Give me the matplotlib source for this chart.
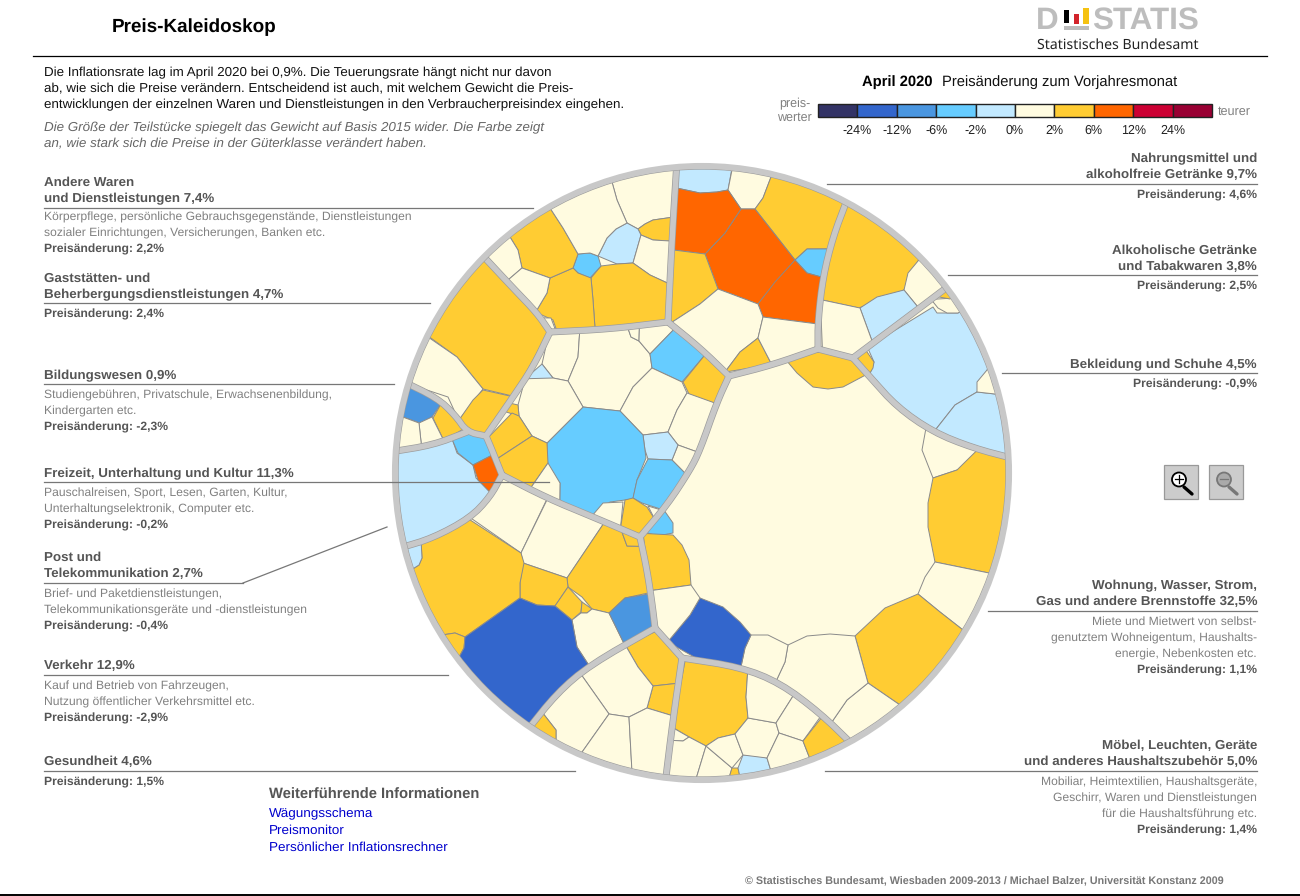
import numpy as np
import matplotlib
matplotlib.use('Agg')
import matplotlib.pyplot as plt
from matplotlib.patches import Polygon, Circle, Rectangle

plt.rcParams['font.family'] = ['Liberation Sans', 'DejaVu Sans']
plt.rcParams['text.hinting'] = 'no_hinting'

# --------------------- colour scale ---------------------
price_colors = ['#333366', '#3366cc', '#4a96e0', '#66ccff', '#c2e9ff',
                '#fffbe0', '#ffcc33', '#ff6600', '#cc0033', '#990033']
price_ticks = ['-24%', '-12%', '-6%', '-2%', '0%', '2%', '6%', '12%', '24%']
DBLUE, MBLUE, BLUE, LBLUE, CREAM, GOLD, ORANGE = 1, 2, 3, 4, 5, 6, 7

# --------------------- cells: (price class, outline) ---------------------
cells_waren = [
    (CREAM, [(612,182),(617,200),(627,223),(638,229),(645,224),(653,220),(672,217),(677,168)]),
    (GOLD, [(638,229),(645,224),(653,220),(672,217),(670,241),(653,240),(641,235)]),
    (LBLUE, [(627,223),(638,229),(641,235),(633,263),(617,264),(598,256),(607,238),(616,229)]),
    (CREAM, [(641,235),(653,240),(670,241),(667,284),(650,275),(633,263)]),
    (GOLD, [(601,266),(617,264),(633,263),(650,275),(667,284),(667,322),(595,328),(593,300),(591,278)]),
    (BLUE, [(578,254),(590,253),(598,256),(601,266),(590,278),(578,273),(573,268)]),
    (GOLD, [(550,278),(573,268),(578,273),(591,278),(593,300),(595,328),(557,329),(553,320),(537,311),(547,293)]),
    (CREAM, [(537,313),(545,314),(551,318),(556,329),(548,330)]),
    (GOLD, [(510,237),(550,208),(563,228),(578,254),(573,268),(550,278),(522,268),(518,250)]),
    (CREAM, [(550,208),(612,182),(617,200),(627,223),(616,229),(607,238),(598,256),(590,253),(578,254),(563,228)]),
    (CREAM, [(488,257),(510,237),(518,250),(522,268),(510,278)]),
    (CREAM, [(510,278),(522,268),(550,278),(547,293),(537,311)]),
]
cells_gast = [
    (GOLD, [(483,260),(547,332),(513,396),(483,389),(457,357),(428,336)]),
    (CREAM, [(428,337),(457,357),(483,389),(463,417),(448,397),(410,378)]),
    (GOLD, [(483,390),(512,396),(487,435),(468,428),(463,417),(473,400)]),
]
cells_bildung = [
    (MBLUE, [(407,387),(440,405),(432,417),(420,423),(400,416)]),
    (GOLD, [(440,405),(463,430),(443,438),(433,418)]),
    (CREAM, [(432,417),(443,438),(421,444),(419,423)]),
    (CREAM, [(400,416),(419,423),(421,444),(397,447)]),
]
cells_freizeit = [
    (LBLUE, [(395,452),(453,441),(457,453),(473,465),(476,478),(487,490),(470,518),(433,538),(403,545)]),
    (BLUE, [(453,442),(468,435),(485,438),(492,455),(473,465),(458,453)]),
    (ORANGE, [(473,465),(492,455),(498,470),(497,478),(487,491),(478,480)]),
    (CREAM, [(550,336),(580,335),(578,357),(568,381),(553,378),(542,364)]),
    (LBLUE, [(542,364),(553,378),(540,383),(530,382)]),
    (CREAM, [(580,335),(628,332),(631,337),(639,341),(650,354),(652,368),(633,387),(620,411),(583,407),(568,381),(578,357)]),
    (CREAM, [(628,332),(640,330),(639,341),(631,337)]),
    (CREAM, [(640,330),(668,326),(672,332),(650,354),(639,341)]),
    (BLUE, [(672,332),(702,358),(682,382),(652,368),(650,354)]),
    (GOLD, [(702,358),(727,378),(715,403),(690,396),(683,382)]),
    (CREAM, [(652,368),(682,382),(687,393),(677,410),(668,432),(643,435),(620,411),(633,387)]),
    (CREAM, [(687,393),(715,403),(697,445),(693,450),(678,445),(668,432),(677,410)]),
    (CREAM, [(678,445),(693,450),(682,472),(672,460)]),
    (LBLUE, [(643,435),(668,432),(678,445),(672,460),(648,459),(645,450)]),
    (BLUE, [(547,443),(583,407),(620,411),(643,435),(646,458),(637,480),(633,499),(625,500),(610,502),(593,513),(562,498),(560,483),(547,470)]),
    (BLUE, [(648,459),(672,460),(682,472),(658,506),(648,505),(642,503),(633,498),(637,480)]),
    (CREAM, [(530,382),(553,378),(568,381),(583,407),(547,443),(532,436),(519,416),(518,405)]),
    (GOLD, [(512,405),(518,405),(519,416),(509,415)]),
    (GOLD, [(491,437),(512,413),(519,416),(532,436),(500,458)]),
    (GOLD, [(500,458),(532,436),(547,443),(548,463),(533,483),(505,475)]),
    (CREAM, [(548,463),(560,483),(562,498),(533,483)]),
    (CREAM, [(593,513),(603,503),(623,502),(622,525),(603,520)]),
    (GOLD, [(625,500),(633,498),(647,507),(652,517),(639,534),(622,525)]),
    (CREAM, [(648,506),(658,507),(652,517)]),
]
cells_verkehr = [
    (CREAM, [(470,518),(502,478),(547,499),(521,553)]),
    (CREAM, [(547,500),(603,526),(567,578),(523,563),(521,553)]),
    (GOLD, [(603,526),(619,533),(627,546),(639,547),(647,593),(625,598),(609,613),(592,609),(582,597),(568,587),(567,578)]),
    (GOLD, [(619,533),(638,539),(639,547),(627,546)]),
    (GOLD, [(523,563),(567,578),(568,587),(555,606),(537,605),(520,598),(520,583)]),
    (GOLD, [(568,587),(582,602),(581,612),(572,620),(555,606)]),
    (GOLD, [(582,602),(592,609),(587,613),(581,613)]),
    (CREAM, [(572,620),(581,613),(587,613),(592,609),(609,613),(623,642),(588,664),(577,647)]),
    (MBLUE, [(609,613),(625,598),(648,594),(653,627),(623,642)]),
    (GOLD, [(422,544),(468,519),(521,553),(524,563),(520,583),(520,598),(465,637),(455,633),(442,635),(411,570),(419,565),(422,558)]),
    (LBLUE, [(405,550),(422,544),(422,558),(419,565),(411,570)]),
    (GOLD, [(442,635),(455,633),(465,637),(464,648),(458,659)]),
    (DBLUE, [(465,637),(520,598),(537,605),(555,606),(572,620),(577,647),(588,664),(528,727),(458,659),(464,648)]),
]
cells_gesundheit = [
    (GOLD, [(655,633),(679,657),(677,683),(653,686),(638,667),(627,648)]),
    (GOLD, [(653,686),(677,683),(673,716),(647,708)]),
    (CREAM, [(627,648),(638,667),(653,686),(647,708),(629,717),(609,714),(583,677)]),
    (CREAM, [(583,677),(609,714),(580,755),(556,743),(556,730),(547,716)]),
    (GOLD, [(547,716),(556,730),(556,743),(535,731)]),
    (CREAM, [(609,714),(629,717),(632,772),(580,755)]),
    (CREAM, [(629,717),(647,708),(673,716),(665,778),(632,772)]),
]
cells_moebel = [
    (GOLD, [(685,662),(747,673),(746,697),(748,718),(735,734),(718,738),(706,746),(689,737),(679,728)]),
    (CREAM, [(677,728),(689,737),(683,741),(676,741)]),
    (CREAM, [(676,741),(683,741),(689,737),(706,746),(696,779),(670,778)]),
    (CREAM, [(706,746),(732,768),(729,778),(696,779)]),
    (CREAM, [(706,746),(718,738),(735,734),(743,755),(732,768)]),
    (GOLD, [(732,768),(738,768),(740,777),(729,778)]),
    (LBLUE, [(743,755),(753,755),(767,758),(771,771),(740,777),(738,768)]),
    (CREAM, [(735,734),(748,718),(776,723),(779,733),(767,758),(743,755)]),
    (CREAM, [(747,673),(793,696),(776,723),(748,718),(746,697)]),
    (CREAM, [(793,696),(820,717),(803,741),(779,733),(776,723)]),
    (CREAM, [(779,733),(803,741),(810,759),(771,771),(767,758)]),
    (GOLD, [(822,717),(847,742),(810,759),(803,741)]),
]
cells_wohnung = [
    (GOLD, [(788,366),(820,354),(852,361),(863,378),(843,387),(828,389),(813,387),(797,373)]),
    (BLUE, [(658,512),(667,512),(673,523),(673,533),(657,536),(648,535)]),
    (CREAM, [(923,432),(922,450),(933,478),(963,468),(978,453)]),
    (GOLD, [(933,478),(928,503),(928,527),(935,562),(989,573),(1005,507),(1006,458),(977,453),(957,470)]),
    (CREAM, [(935,562),(989,573),(963,630),(940,612),(918,594),(925,577)]),
    (GOLD, [(918,594),(940,612),(963,630),(900,705),(868,683),(855,636),(885,608)]),
    (CREAM, [(868,683),(900,705),(853,738),(834,720),(847,700)]),
    (CREAM, [(788,645),(807,636),(830,634),(855,636),(868,683),(847,700),(834,720),(793,692),(778,678),(785,662)]),
    (CREAM, [(751,635),(768,635),(788,645),(785,662),(778,678),(742,663),(745,648)]),
    (DBLUE, [(700,598),(723,607),(740,622),(751,635),(745,648),(742,663),(702,657),(672,638),(690,615)]),
    (GOLD, [(645,535),(673,535),(682,545),(689,560),(691,585),(655,590)]),
    (CREAM, [(655,590),(691,585),(700,598),(690,615),(672,638),(658,627)]),
]
cells_nahrung = [
    (LBLUE, [(680,168),(732,168),(728,190),(717,192),(700,193),(680,188)]),
    (CREAM, [(732,170),(771,177),(763,198),(755,209),(741,209),(728,190)]),
    (GOLD, [(771,177),(843,203),(827,248),(807,249),(795,260),(755,209),(763,198)]),
    (BLUE, [(795,260),(807,249),(827,248),(820,277),(807,273)]),
    (ORANGE, [(741,209),(755,209),(795,260),(758,304),(718,289),(705,254),(725,233)]),
    (ORANGE, [(795,260),(807,273),(820,277),(817,324),(763,317),(758,304),(775,282)]),
    (ORANGE, [(679,188),(700,193),(717,192),(728,190),(741,209),(725,233),(705,254),(676,250)]),
    (GOLD, [(676,250),(705,254),(718,289),(700,304),(672,321)]),
    (CREAM, [(672,321),(700,304),(718,289),(758,304),(763,317),(758,338),(740,352),(726,371),(700,348)]),
    (GOLD, [(726,371),(740,352),(758,338),(771,362)]),
    (CREAM, [(763,317),(817,324),(817,348),(771,362),(758,338)]),
]
cells_alkohol = [
    (GOLD, [(848,208),(918,261),(904,290),(859,308),(824,300),(830,257)]),
    (CREAM, [(918,261),(942,287),(918,307),(904,290),(908,273)]),
    (LBLUE, [(904,290),(918,307),(872,342),(860,308),(877,297)]),
    (CREAM, [(824,300),(860,308),(872,342),(852,355),(823,348)]),
]
cells_bekleidung = [
    (LBLUE, [(871,352),(933,307),(937,313),(958,313),(987,370),(977,392),(955,405),(935,430),(870,375),(874,362)]),
    (LBLUE, [(977,392),(995,394),(1005,453),(935,430),(955,405)]),
    (CREAM, [(987,370),(995,394),(977,392),(977,382)]),
    (CREAM, [(933,302),(955,298),(958,313),(947,313),(938,308)]),
    (GOLD, [(938,300),(947,293),(950,299)]),
    (GOLD, [(857,360),(868,353),(874,362),(873,368),(869,375)]),
]
all_cells = (cells_waren + cells_gast + cells_bildung + cells_freizeit + cells_verkehr
             + cells_gesundheit + cells_moebel + cells_wohnung + cells_nahrung
             + cells_alkohol + cells_bekleidung)

# thick borders between the main groups
dividers = [
    [(677,160),(672,240),(668,322)],
    [(668,322),(610,329),(550,332)],
    [(550,332),(537,313),(513,288),(485,258)],
    [(550,332),(533,367),(513,397),(486,436)],
    [(400,380),(437,398),(455,415),(467,432),(486,436)],
    [(467,432),(433,445),(390,452)],
    [(486,436),(492,450),(502,475)],
    [(502,475),(547,498),(593,517),(640,537)],
    [(502,475),(490,497),(470,518),(433,538),(400,548)],
    [(640,537),(667,505),(690,470),(700,450),(717,402),(729,376)],
    [(668,322),(700,348),(729,376)],
    [(729,376),(772,365),(818,349)],
    [(818,349),(818,320),(823,277),(833,237),(847,200)],
    [(818,349),(853,358)],
    [(853,358),(877,340),(917,310),(950,285)],
    [(853,358),(870,377),(897,407),(933,432),(973,448),(1015,459)],
    [(640,537),(647,570),(652,603),(655,628)],
    [(655,628),(590,665),(557,693),(525,733)],
    [(655,628),(682,658)],
    [(682,658),(673,720),(665,785)],
    [(682,658),(740,667),(780,683),(820,713),(853,745)],
]

# --------------------- texts ---------------------
intro_lines = ['Die Inflationsrate lag im April 2020 bei 0,9%. Die Teuerungsrate hängt nicht nur davon',
               'ab, wie sich die Preise verändern. Entscheidend ist auch, mit welchem Gewicht die Preis-',
               'entwicklungen der einzelnen Waren und Dienstleistungen in den Verbraucherpreisindex eingehen.']
note_lines = ['Die Größe der Teilstücke spiegelt das Gewicht auf Basis 2015 wider. Die Farbe zeigt',
              'an, wie stark sich die Preise in der Güterklasse verändert haben.']
link_labels = ['Wägungsschema', 'Preismonitor', 'Persönlicher Inflationsrechner']

WHEEL_X, WHEEL_Y, WHEEL_R = 702, 473, 310
GREY_TXT = '#555555'
DESC_TXT = '#808080'
RULE = '#777777'


def chaikin(pts, n=2):
    pts = np.array(pts, dtype=float)
    for _ in range(n):
        q = 0.75 * pts[:-1] + 0.25 * pts[1:]
        r = 0.25 * pts[:-1] + 0.75 * pts[1:]
        mid = np.empty((2 * len(q), 2))
        mid[0::2], mid[1::2] = q, r
        pts = np.vstack([pts[:1], mid, pts[-1:]])
    return pts


smooth_dividers = [chaikin(d) for d in dividers]


def nearest_divider(v):
    # closest point on any divider: (distance, divider, segment, point)
    best = (1e9, -1, -1, None)
    for d, pts in enumerate(smooth_dividers):
        a, b = pts[:-1], pts[1:]
        ab = b - a
        t = np.clip(((v - a) * ab).sum(1) / np.maximum((ab * ab).sum(1), 1e-9), 0, 1)
        proj = a + ab * t[:, None]
        dist = np.hypot(*(v - proj).T)
        s = int(dist.argmin())
        if dist[s] < best[0]:
            best = (dist[s], d, s, proj[s])
    return best


def snap_to_dividers(verts):
    # vertices were read at the edge of a border; run them along its middle
    info = [nearest_divider(np.array(v, float)) for v in verts]
    out = []
    n = len(verts)
    for i in range(n):
        da, d1, s1, p1 = info[i]
        db, d2, s2, p2 = info[(i + 1) % n]
        out.append(p1 if da < 7 else np.array(verts[i], float))
        if da < 7 and db < 7 and d1 == d2 and s1 != s2:
            pts = smooth_dividers[d1]
            if s1 < s2:
                out.extend(pts[s1 + 1:s2 + 1])
            else:
                out.extend(pts[s2 + 1:s1 + 1][::-1])
    return np.array(out)


def reach_ring(verts):
    # cells touching the rim get pushed past it, the clip circle trims them
    out = []
    n = len(verts)
    c = np.array((WHEEL_X, WHEEL_Y), float)
    for i in range(n):
        a, b = verts[i], verts[(i + 1) % n]
        out.append(a)
        ra, rb = a - c, b - c
        if np.hypot(*ra) > 298 and np.hypot(*rb) > 298:
            out.append(c + ra / np.hypot(*ra) * 335)
            out.append(c + rb / np.hypot(*rb) * 335)
    return np.array(out)


fig = plt.figure(figsize=(13, 8.96), dpi=100)
ax = fig.add_axes([0, 0, 1, 1])
ax.set_xlim(0, 1300)
ax.set_ylim(896, 0)
ax.axis('off')


def put(x, y, s, size=9, color='black', **kw):
    return ax.text(x, y, s, fontsize=size, color=color, va='center', **kw)


# --------------------- wheel ---------------------
clip = Circle((WHEEL_X, WHEEL_Y), WHEEL_R - 3, transform=ax.transData)
ax.add_patch(Circle((WHEEL_X, WHEEL_Y), WHEEL_R - 3, fc=price_colors[CREAM], ec='none', zorder=1))

for cls, verts in all_cells:
    p = Polygon(reach_ring(snap_to_dividers(verts)), closed=True, fc=price_colors[cls], ec='#8a8a8a',
                lw=0.7, joinstyle='round', zorder=2)
    ax.add_patch(p)
    p.set_clip_path(clip)

for pts in smooth_dividers:
    for lw, col, z in [(5.0, '#9c9c9c', 3), (4.0, '#c8c8c8', 4)]:
        l, = ax.plot(pts[:, 0], pts[:, 1], color=col, lw=lw, solid_capstyle='round',
                     solid_joinstyle='round', zorder=z)
        l.set_clip_path(clip)

ax.add_patch(Circle((WHEEL_X, WHEEL_Y), WHEEL_R - 6, fc='none', ec='#9c9c9c', lw=0.9, zorder=5))
ax.add_patch(Circle((WHEEL_X, WHEEL_Y), WHEEL_R - 3, fc='none', ec='#c8c8c8', lw=4.4, zorder=6))

# --------------------- header ---------------------
put(112, 27.5, 'Preis-Kaleidoskop', size=13.6, weight='bold')
ax.plot([33, 1267], [56.5, 56.5], color='black', lw=0.9)
ax.plot([0, 1300], [895, 895], color='black', lw=1.4)

# logo
put(1036, 21, 'D', size=22.6, color='#bdbdbd', weight='bold')
put(1092, 21, 'STATIS', size=22.6, color='#bdbdbd', weight='bold')
ax.add_patch(Rectangle((1064, 10), 5, 13.5, fc='black', ec='none'))
ax.add_patch(Rectangle((1074, 14), 4.5, 10, fc='#d2232a', ec='none'))
ax.add_patch(Rectangle((1083, 8), 6, 16, fc='#f5c211', ec='none'))
ax.add_patch(Rectangle((1064, 26), 25, 4, fc='#bdbdbd', ec='none'))
put(1037, 45, 'Statistisches Bundesamt', size=10.15, color='#222222', family=['Noto Sans', 'DejaVu Sans'])

for i, s in enumerate(intro_lines):
    put(44, 73 + 16 * i, s, size=9.66, color='#111111')
for i, s in enumerate(note_lines):
    put(44, 128 + 16 * i, s, size=9.67, color='#666666', style='italic')

# --------------------- legend ---------------------
put(862, 82, 'April 2020', size=10.6, weight='bold')
put(942, 82, 'Preisänderung zum Vorjahresmonat', size=10.6, color='#111111')
seg_w = (1212 - 818) / len(price_colors)
for i, col in enumerate(price_colors):
    ax.add_patch(Rectangle((818 + i * seg_w, 104.5), seg_w, 12.5, fc=col, ec='#222222', lw=1.0))
for i, s in enumerate(price_ticks):
    put(818 + (i + 1) * seg_w, 131, s, size=9, color='#222222', ha='center')
put(810, 104, 'preis-', size=9, color=DESC_TXT, ha='right')
put(812, 118, 'werter', size=9, color=DESC_TXT, ha='right')
put(1218, 111.5, 'teurer', size=9.1, color=DESC_TXT)


# --------------------- labels ---------------------
def label(x, ha, title, rule_y, rule_to, desc=(), change=None, gap=11):
    # title lines sit above the rule, description and price change below it
    n = len(title)
    for i, s in enumerate(title):
        put(x, rule_y - 9 - 16 * (n - 1 - i), s, size=9.68, color=GREY_TXT, weight='bold', ha=ha)
    y = rule_y + gap
    for s in desc:
        put(x, y, s, size=8.72, color=DESC_TXT, ha=ha)
        y += 16
    put(x, y, 'Preisänderung: ' + change, size=8.7, color=GREY_TXT, weight='bold', ha=ha)
    ax.plot([x, rule_to], [rule_y, rule_y], color=RULE, lw=0.9, zorder=8)


label(44, 'left', ['Andere Waren', 'und Dienstleistungen 7,4%'], 208, 533,
      ['Körperpflege, persönliche Gebrauchsgegenstände, Dienstleistungen',
       'sozialer Einrichtungen, Versicherungen, Banken etc.'], '2,2%', gap=9.5)
label(44, 'left', ['Gaststätten- und', 'Beherbergungsdienstleistungen 4,7%'], 303.5, 430, [], '2,4%')
label(44, 'left', ['Bildungswesen 0,9%'], 384.5, 394,
      ['Studiengebühren, Privatschule, Erwachsenenbildung,', 'Kindergarten etc.'], '-2,3%')
label(44, 'left', ['Freizeit, Unterhaltung und Kultur 11,3%'], 482.5, 549,
      ['Pauschalreisen, Sport, Lesen, Garten, Kultur,', 'Unterhaltungselektronik, Computer etc.'], '-0,2%')
label(44, 'left', ['Post und', 'Telekommunikation 2,7%'], 583, 243,
      ['Brief- und Paketdienstleistungen,', 'Telekommunikationsgeräte und -dienstleistungen'], '-0,4%')
ax.plot([243, 387], [583, 527], color=RULE, lw=0.9, zorder=8)
label(44, 'left', ['Verkehr 12,9%'], 675, 448,
      ['Kauf und Betrieb von Fahrzeugen,', 'Nutzung öffentlicher Verkehrsmittel etc.'], '-2,9%')
label(44, 'left', ['Gesundheit 4,6%'], 771, 575, [], '1,5%')

label(1257, 'right', ['Nahrungsmittel und', 'alkoholfreie Getränke 9,7%'], 184, 827, [], '4,6%')
label(1257, 'right', ['Alkoholische Getränke', 'und Tabakwaren 3,8%'], 275.5, 948, [], '2,5%')
label(1257, 'right', ['Bekleidung und Schuhe 4,5%'], 373.5, 1002, [], '-0,9%')
label(1257, 'right', ['Wohnung, Wasser, Strom,', 'Gas und andere Brennstoffe 32,5%'], 611, 988,
      ['Miete und Mietwert von selbst-', 'genutztem Wohneigentum, Haushalts-', 'energie, Nebenkosten etc.'], '1,1%')
label(1257, 'right', ['Möbel, Leuchten, Geräte', 'und anderes Haushaltszubehör 5,0%'], 771, 825,
      ['Mobiliar, Heimtextilien, Haushaltsgeräte,', 'Geschirr, Waren und Dienstleistungen',
       'für die Haushaltsführung etc.'], '1,4%')

# --------------------- links, footer ---------------------
put(269, 795, 'Weiterführende Informationen', size=10.6, color=GREY_TXT, weight='bold')
for i, s in enumerate(link_labels):
    put(269, 813.5 + 17.1 * i, s, size=9.69, color='#0000cc')
put(745, 881, '© Statistisches Bundesamt, Wiesbaden 2009-2013 / Michael Balzer, Universität Konstanz 2009',
    size=7.75, color='#777777', weight='bold')

# --------------------- zoom buttons ---------------------
for bx, col, glass in [(1164, 'black', 'white'), (1209, '#777777', '#aaaaaa')]:
    ax.add_patch(Rectangle((bx, 465), 33.5, 34, fc='#cccccc', ec='#999999', lw=0.9))
    ax.plot([bx + 20, bx + 28], [487, 494], color=col, lw=2.4, solid_capstyle='round')
    ax.add_patch(Circle((bx + 15, 479.5), 7, fc=glass, ec=col, lw=1.3, zorder=3))
    ax.plot([bx + 11, bx + 19], [479.5, 479.5], color=col, lw=0.9, zorder=4)
    if col == 'black':
        ax.plot([bx + 15, bx + 15], [475.5, 483.5], color=col, lw=0.9, zorder=4)

fig.savefig('out.png', dpi=100)
